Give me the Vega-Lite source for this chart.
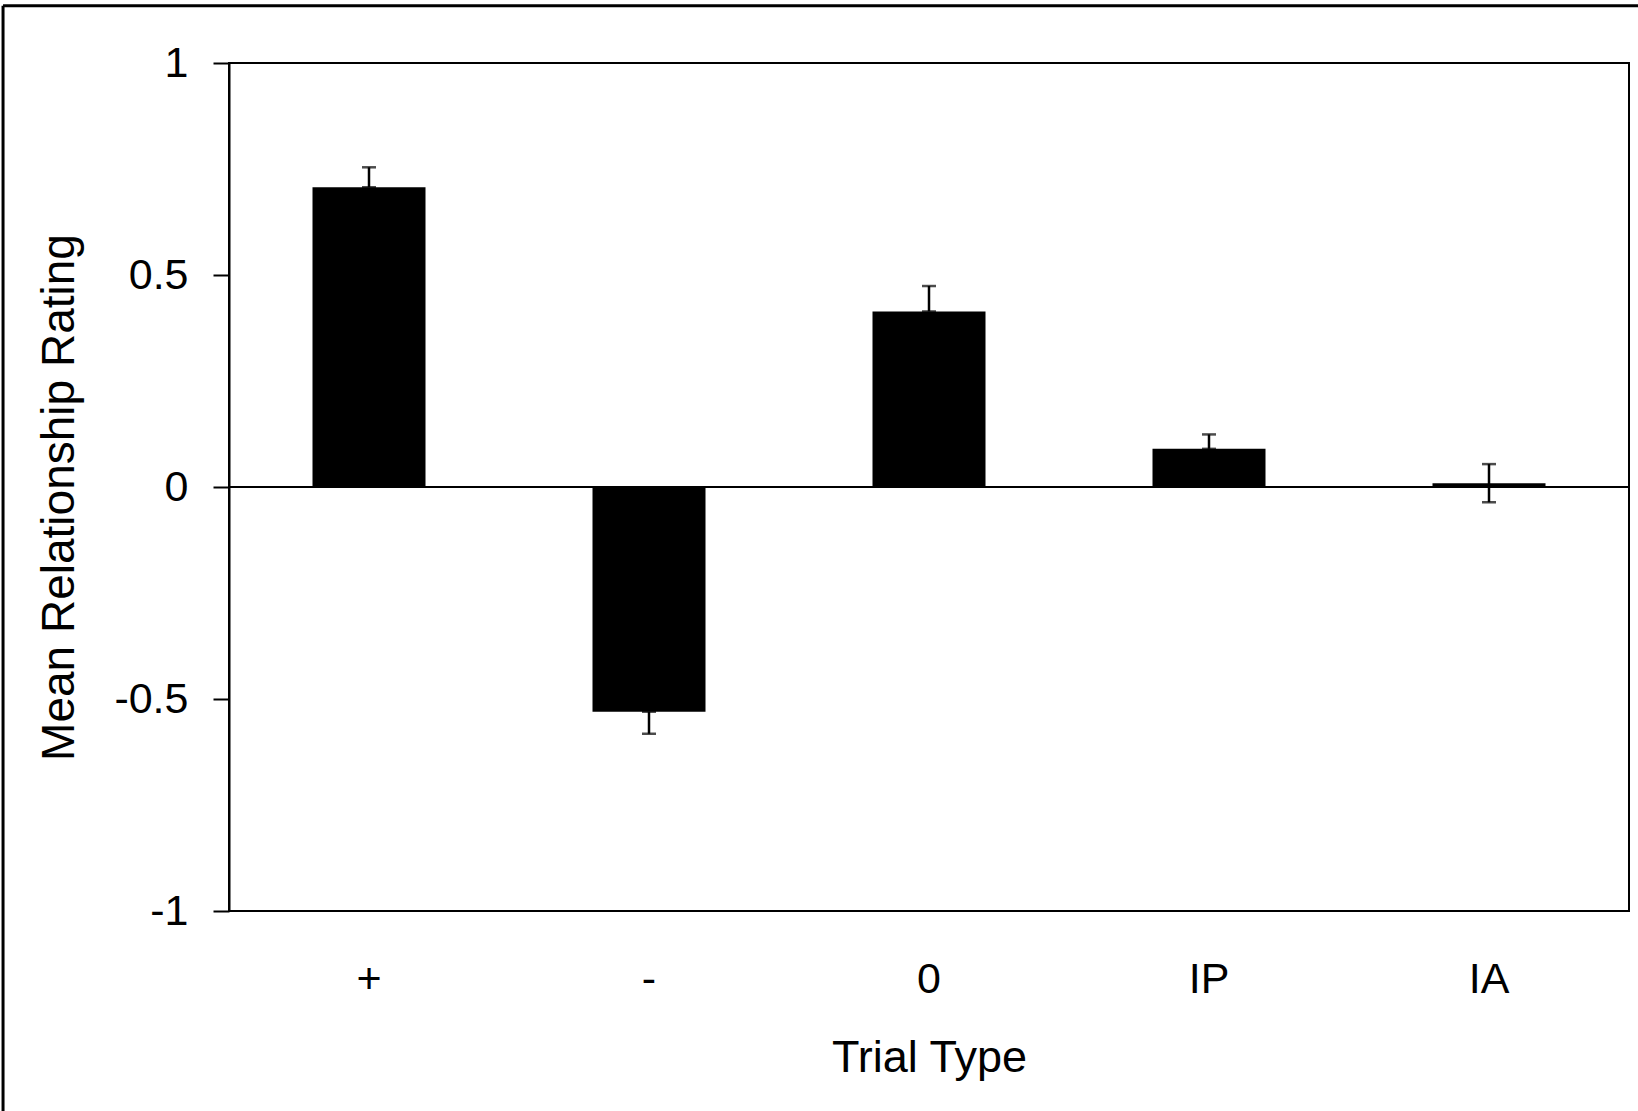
{
  "$schema": "https://vega.github.io/schema/vega-lite/v6.json",
  "autosize": "none",
  "width": 1400,
  "height": 848,
  "padding": {"left": 229, "top": 63, "right": 9, "bottom": 200},
  "background": "white",
  "config": {
    "view": {"stroke": "black", "strokeWidth": 2},
    "font": "Liberation Sans",
    "axis": {"labelColor": "black", "titleColor": "black", "grid": false, "domainColor": "black", "domainWidth": 2, "tickColor": "black", "tickWidth": 2, "labelFont": "Liberation Sans", "titleFont": "Liberation Sans", "titleFontWeight": "normal"}
  },
  "datasets": {
    "bars": [
      {"trial": "+", "mean": 0.707, "lower": 0.707, "upper": 0.754},
      {"trial": "-", "mean": -0.530, "lower": -0.582, "upper": -0.530},
      {"trial": "0", "mean": 0.414, "lower": 0.414, "upper": 0.474},
      {"trial": "IP", "mean": 0.090, "lower": 0.090, "upper": 0.124},
      {"trial": "IA", "mean": 0.009, "lower": -0.036, "upper": 0.054}
    ],
    "frame": [
      {"fx": -0.1614, "fx2": 1.1, "fy": 1.135, "fy2": 1.135},
      {"fx": -0.1614, "fx2": -0.1614, "fy": 1.135, "fy2": -1.6}
    ]
  },
  "layer": [
    {
      "data": {"name": "bars"},
      "layer": [
        {
          "mark": {"type": "bar", "size": 113, "color": "black"},
          "encoding": {
            "x": {
              "field": "trial", "type": "nominal", "sort": null,
              "scale": {"paddingInner": 0, "paddingOuter": 0},
              "axis": {"title": "Trial Type", "labelAngle": 0, "ticks": false, "tickSize": 0, "domain": false, "labelFontSize": 43, "labelBaseline": "alphabetic", "labelPadding": 81, "titleFontSize": 45, "titleBaseline": "alphabetic", "titleY": 160}
            },
            "y": {
              "field": "mean", "type": "quantitative",
              "scale": {"domain": [-1, 1], "nice": false, "zero": false},
              "axis": {"title": "Mean Relationship Rating", "values": [-1, -0.5, 0, 0.5, 1], "labelExpr": "'' + datum.value", "tickSize": 16, "labelPadding": 25, "labelFontSize": 43, "labelBaseline": "middle", "titleFontSize": 46, "titleAngle": -90, "titleBaseline": "alphabetic", "titleX": -156, "titleY": 434, "titleAlign": "center"}
            }
          }
        },
        {
          "mark": {"type": "rule", "color": "black", "strokeWidth": 2},
          "encoding": {"y": {"datum": 0, "type": "quantitative"}}
        },
        {
          "mark": {"type": "rule", "color": "black", "strokeWidth": 2.5},
          "encoding": {
            "x": {"field": "trial", "type": "nominal", "sort": null},
            "y": {"field": "lower", "type": "quantitative"},
            "y2": {"field": "upper"}
          }
        },
        {
          "mark": {"type": "tick", "color": "black", "size": 14, "thickness": 2.5, "orient": "horizontal"},
          "encoding": {
            "x": {"field": "trial", "type": "nominal", "sort": null},
            "y": {"field": "upper", "type": "quantitative"}
          }
        },
        {
          "mark": {"type": "tick", "color": "black", "size": 14, "thickness": 2.5, "orient": "horizontal"},
          "encoding": {
            "x": {"field": "trial", "type": "nominal", "sort": null},
            "y": {"field": "lower", "type": "quantitative"}
          }
        }
      ]
    },
    {
      "data": {"name": "frame"},
      "mark": {"type": "rule", "color": "black", "strokeWidth": 3, "clip": false},
      "encoding": {
        "x": {"field": "fx", "type": "quantitative", "scale": {"domain": [0, 1], "nice": false, "zero": false}, "axis": null},
        "x2": {"field": "fx2"},
        "y": {"field": "fy", "type": "quantitative"},
        "y2": {"field": "fy2"}
      }
    }
  ],
  "resolve": {"scale": {"x": "independent"}}
}
